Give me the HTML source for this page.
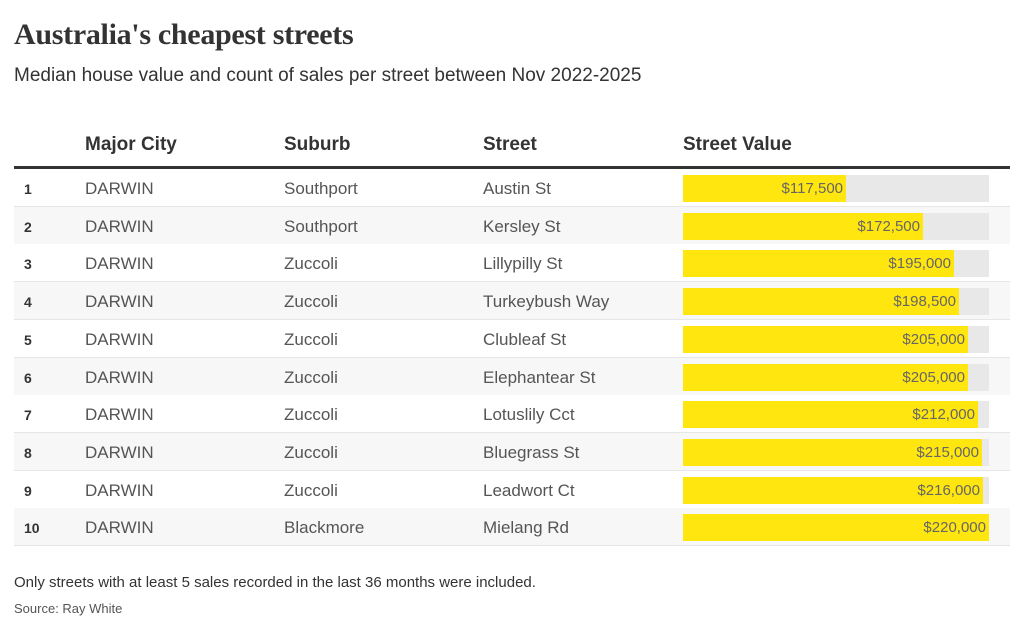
<!DOCTYPE html>
<html><head><meta charset="utf-8"><style>
body{margin:0;width:1024px;height:631px;background:#fff;font-family:"Liberation Sans",sans-serif;color:#333;position:relative;overflow:hidden}
.t{position:absolute;left:14px;top:18px;font-family:"Liberation Serif",serif;font-weight:bold;font-size:30px;color:#333;letter-spacing:-0.3px}
.s{position:absolute;left:14px;top:65px;font-size:19px;color:#333}
.h{position:absolute;top:134px;font-size:19px;font-weight:bold;color:#333}
.line{position:absolute;left:14px;top:166px;width:996px;height:3px;background:#333}
.row{position:absolute;left:14px;width:996px;height:37px;border-bottom:1px solid #e6e6e6}
.row span{position:absolute;top:10px;font-size:17px;color:#555}
.row .n{left:10px;font-weight:bold;font-size:14px;top:12px;color:#333}
.bg{position:absolute;left:669px;top:6px;width:306px;height:27px;background:#e8e8e8}
.bar{position:absolute;left:0;top:0;height:27px;background:#ffe60f;text-align:right;font-size:15px;color:#666;line-height:28px;box-sizing:border-box;padding-right:3px}
.f{position:absolute;left:14px;top:574px;font-size:15px;color:#333}
.src{position:absolute;left:14px;top:601px;font-size:13px;color:#555}
</style></head><body>
<div class="t">Australia's cheapest streets</div>
<div class="s">Median house value and count of sales per street between Nov 2022-2025</div>
<div class="h" style="left:85px">Major City</div>
<div class="h" style="left:284px">Suburb</div>
<div class="h" style="left:483px">Street</div>
<div class="h" style="left:683px">Street Value</div>
<div class="line"></div>
<div id="rows"></div>
<div class="f">Only streets with at least 5 sales recorded in the last 36 months were included.</div>
<div class="src">Source: Ray White</div>
<script>
var d=[["Southport","Austin St",117500],["Southport","Kersley St",172500],["Zuccoli","Lillypilly St",195000],["Zuccoli","Turkeybush Way",198500],["Zuccoli","Clubleaf St",205000],["Zuccoli","Elephantear St",205000],["Zuccoli","Lotuslily Cct",212000],["Zuccoli","Bluegrass St",215000],["Zuccoli","Leadwort Ct",216000],["Blackmore","Mielang Rd",220000]];
var h="";
d.forEach(function(r,i){
var top=169+i*37.7;
var w=Math.round(306*r[2]/220000);
h+='<div class="row" style="top:'+top+'px;background:'+(i%2?'#f7f7f7':'#fff')+'"><span class="n">'+(i+1)+'</span><span style="left:71px">DARWIN</span><span style="left:270px">'+r[0]+'</span><span style="left:469px">'+r[1]+'</span><div class="bg"><div class="bar" style="width:'+w+'px">$'+r[2].toLocaleString('en-US')+'</div></div></div>';
});
document.getElementById("rows").innerHTML=h;
</script>
</body></html>
